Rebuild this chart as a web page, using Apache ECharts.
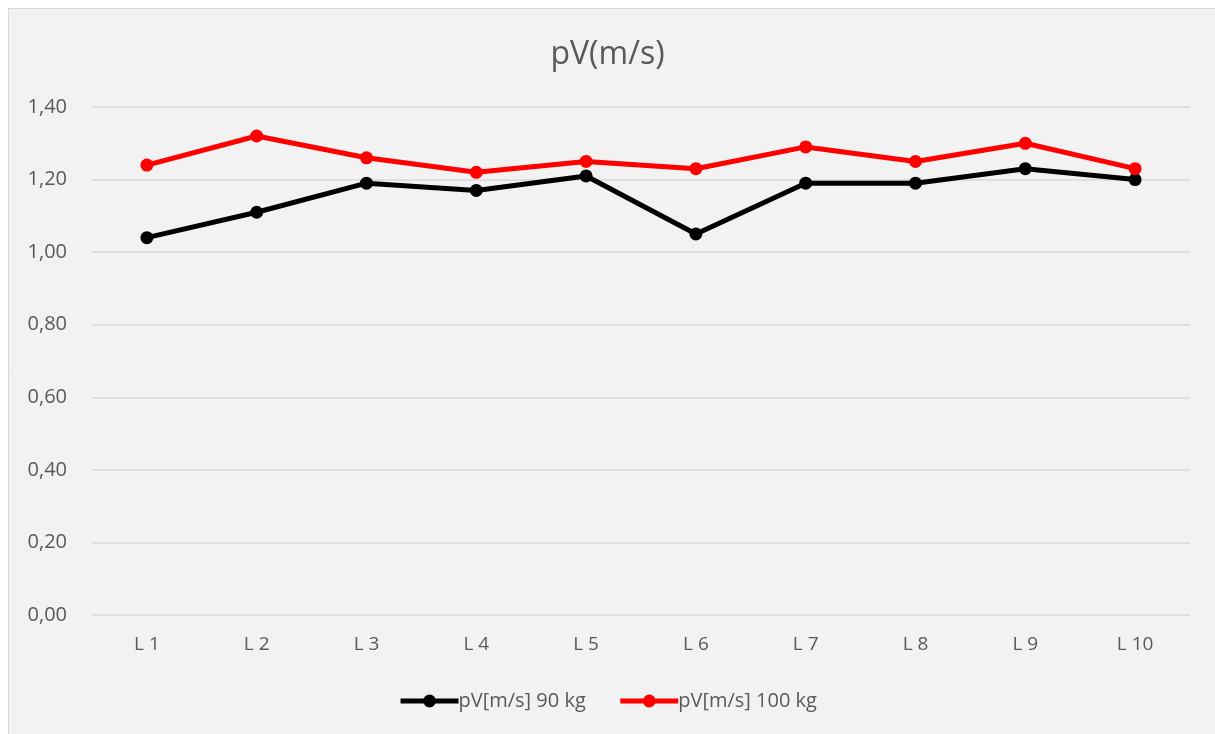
<!DOCTYPE html>
<html>
<head>
<meta charset="utf-8">
<script src="https://cdn.jsdelivr.net/npm/echarts@6/dist/echarts.min.js"></script>
<style>
html,body{margin:0;padding:0;background:#fff;}
#c{width:1215px;height:734px;}
</style>
</head>
<body>
<div id="c"></div>
<script>
const categories = ["L 1","L 2","L 3","L 4","L 5","L 6","L 7","L 8","L 9","L 10"];
const series90 = [1.04,1.11,1.19,1.17,1.21,1.05,1.19,1.19,1.23,1.20];
const series100 = [1.24,1.32,1.26,1.22,1.25,1.23,1.29,1.25,1.30,1.23];
const seriesNames = ["pV[m/s] 90 kg","pV[m/s] 100 kg"];
const titleText = "pV(m/s)";

const font = "'Open Sans', 'Liberation Sans', sans-serif";
const chart = echarts.init(document.getElementById('c'));
chart.setOption({
  backgroundColor: '#ffffff',
  animation: false,
  graphic: [{
    type: 'rect', z: -10, silent: true,
    shape: {x: 8.5, y: 8.5, width: 1210, height: 730},
    style: {fill: '#f2f2f2', stroke: '#d9d9d9', lineWidth: 1}
  }],
  title: {
    text: titleText, left: 'center', top: 34,
    textStyle: {fontFamily: font, fontSize: 32, fontWeight: 'normal', color: '#595959'}
  },
  legend: {
    bottom: 18, left: 'center', itemWidth: 58, itemHeight: 16, itemGap: 32,
    textStyle: {fontFamily: font, fontSize: 20, color: '#595959', padding: [0,0,0,-5]},
    lineStyle: {width: 5},
    data: seriesNames
  },
  grid: {left: 92, right: 25, top: 107, bottom: 119},
  xAxis: {
    type: 'category', data: categories, boundaryGap: true,
    axisLine: {show: false}, axisTick: {show: false},
    axisLabel: {fontFamily: font, fontSize: 19, color: '#595959', margin: 20}
  },
  yAxis: {
    type: 'value', min: 0, max: 1.4, interval: 0.2,
    axisLine: {show: false}, axisTick: {show: false},
    splitLine: {lineStyle: {color: '#d9d9d9', width: 1.5}},
    axisLabel: {fontFamily: font, fontSize: 20, color: '#595959', margin: 25,
      formatter: v => v.toFixed(2).replace('.', ',')}
  },
  series: [
    {name: seriesNames[0], type: 'line', data: series90, symbol: 'circle', symbolSize: 13,
     lineStyle: {color: '#000000', width: 5}, itemStyle: {color: '#000000'}},
    {name: seriesNames[1], type: 'line', data: series100, symbol: 'circle', symbolSize: 13,
     lineStyle: {color: '#ff0000', width: 5}, itemStyle: {color: '#ff0000'}}
  ]
});
</script>
</body>
</html>
